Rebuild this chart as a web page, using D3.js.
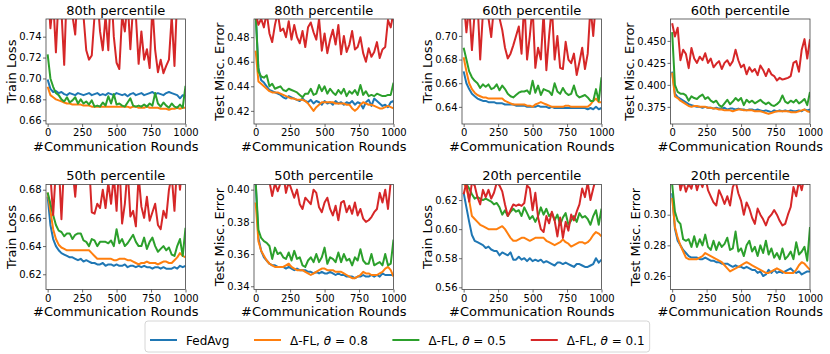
<!DOCTYPE html>
<html>
<head>
<meta charset="utf-8">
<script src="https://cdn.jsdelivr.net/npm/d3@7"></script>
<style>
  body { margin: 0; background: #fff; }
  text { font-family: "DejaVu Sans", sans-serif; }
</style>
</head>
<body>
<svg id="chart" width="830" height="354"></svg>
<script>
// Communication rounds (x values shared by every series)
const rounds = [0,20,40,60,80,100,120,140,160,180,200,220,240,260,280,300,320,340,360,380,
  400,420,440,460,480,500,520,540,560,580,600,620,640,660,680,700,720,740,760,780,
  800,820,840,860,880,900,920,940,960,980,1000];

const seriesNames = ["FedAvg", "\u0394-FL, \u03b8 = 0.8", "\u0394-FL, \u03b8 = 0.5", "\u0394-FL, \u03b8 = 0.1"];
const colors = ["#1f77b4", "#ff7f0e", "#2ca02c", "#d62728"];
const xTicks = [0, 250, 500, 750, 1000];

// 80th percentile - train loss
const train80_fedavg = [0.699,0.690,0.687,0.688,0.686,0.687,0.685,0.684,0.686,0.685,0.684,0.686,0.685,0.684,0.685,0.686,0.684,0.685,0.686,0.684,0.685,0.684,0.686,0.685,0.684,0.686,0.685,0.684,0.685,0.683,0.685,0.686,0.684,0.685,0.686,0.684,0.685,0.686,0.687,0.685,0.686,0.685,0.684,0.686,0.687,0.686,0.685,0.684,0.681,0.684,0.683];
const train80_t08 = [0.692,0.684,0.682,0.680,0.679,0.678,0.677,0.676,0.676,0.675,0.675,0.675,0.675,0.674,0.674,0.674,0.673,0.673,0.673,0.673,0.673,0.673,0.673,0.673,0.673,0.673,0.673,0.673,0.673,0.673,0.672,0.673,0.673,0.672,0.672,0.672,0.673,0.672,0.672,0.672,0.672,0.671,0.671,0.671,0.670,0.671,0.671,0.672,0.671,0.672,0.672];
const train80_t05 = [0.723,0.700,0.692,0.686,0.684,0.680,0.678,0.682,0.677,0.679,0.682,0.676,0.680,0.676,0.678,0.675,0.679,0.673,0.674,0.673,0.677,0.674,0.683,0.676,0.685,0.675,0.676,0.674,0.673,0.677,0.681,0.674,0.673,0.674,0.673,0.675,0.673,0.676,0.674,0.686,0.676,0.673,0.677,0.674,0.672,0.676,0.673,0.672,0.675,0.672,0.693];
const train80_t01 = [0.790,0.748,0.775,0.725,0.780,0.765,0.713,0.790,0.770,0.760,0.742,0.790,0.775,0.760,0.727,0.718,0.722,0.760,0.780,0.745,0.727,0.760,0.727,0.790,0.740,0.715,0.709,0.760,0.745,0.775,0.728,0.770,0.760,0.714,0.745,0.718,0.728,0.710,0.770,0.727,0.706,0.718,0.705,0.712,0.718,0.760,0.712,0.780,0.790,0.760,0.790];

// 80th percentile - test error
const test80_fedavg = [0.500,0.455,0.445,0.443,0.440,0.437,0.436,0.435,0.434,0.433,0.431,0.430,0.432,0.431,0.430,0.429,0.428,0.430,0.428,0.427,0.429,0.426,0.428,0.427,0.425,0.428,0.426,0.427,0.425,0.428,0.426,0.427,0.425,0.427,0.426,0.428,0.425,0.427,0.426,0.422,0.427,0.429,0.424,0.430,0.428,0.426,0.424,0.425,0.423,0.427,0.428];
const test80_t08 = [0.469,0.444,0.442,0.440,0.438,0.436,0.435,0.435,0.435,0.434,0.433,0.432,0.431,0.430,0.430,0.429,0.429,0.429,0.428,0.426,0.423,0.420,0.423,0.425,0.427,0.427,0.427,0.427,0.427,0.426,0.426,0.426,0.426,0.425,0.425,0.422,0.420,0.422,0.425,0.427,0.426,0.425,0.425,0.424,0.423,0.422,0.422,0.423,0.424,0.423,0.422];
const test80_t05 = [0.500,0.452,0.448,0.447,0.449,0.440,0.442,0.438,0.439,0.440,0.437,0.436,0.438,0.437,0.436,0.435,0.433,0.431,0.434,0.434,0.438,0.433,0.434,0.441,0.436,0.440,0.434,0.438,0.435,0.433,0.437,0.434,0.438,0.432,0.436,0.434,0.437,0.433,0.441,0.433,0.436,0.432,0.433,0.432,0.434,0.433,0.432,0.432,0.433,0.433,0.443];
const test80_t01 = [0.500,0.490,0.495,0.488,0.500,0.483,0.476,0.490,0.500,0.485,0.487,0.480,0.493,0.478,0.490,0.480,0.475,0.485,0.472,0.488,0.492,0.484,0.478,0.495,0.469,0.483,0.467,0.478,0.486,0.474,0.490,0.466,0.481,0.468,0.474,0.485,0.470,0.472,0.480,0.467,0.460,0.471,0.464,0.468,0.476,0.463,0.470,0.472,0.494,0.488,0.500];

// 60th percentile - train loss
const train60_fedavg = [0.670,0.660,0.655,0.651,0.649,0.647,0.646,0.645,0.645,0.644,0.644,0.644,0.643,0.643,0.643,0.642,0.642,0.642,0.642,0.641,0.641,0.641,0.641,0.640,0.640,0.640,0.640,0.641,0.640,0.640,0.640,0.639,0.640,0.639,0.639,0.639,0.639,0.639,0.639,0.639,0.639,0.639,0.639,0.639,0.639,0.638,0.639,0.638,0.640,0.638,0.639];
const train60_t08 = [0.682,0.670,0.660,0.655,0.652,0.650,0.649,0.648,0.648,0.647,0.647,0.647,0.647,0.647,0.647,0.645,0.644,0.643,0.642,0.642,0.642,0.642,0.642,0.641,0.641,0.640,0.642,0.643,0.644,0.643,0.642,0.641,0.640,0.640,0.640,0.640,0.640,0.641,0.641,0.640,0.640,0.640,0.640,0.640,0.640,0.640,0.642,0.645,0.647,0.644,0.644];
const train60_t05 = [0.690,0.680,0.670,0.665,0.662,0.660,0.656,0.659,0.657,0.659,0.655,0.656,0.659,0.654,0.658,0.655,0.651,0.649,0.648,0.650,0.652,0.653,0.653,0.654,0.651,0.662,0.652,0.658,0.650,0.655,0.654,0.653,0.650,0.660,0.653,0.651,0.656,0.652,0.650,0.651,0.658,0.650,0.648,0.649,0.650,0.648,0.645,0.645,0.655,0.645,0.665];
const train60_t01 = [0.730,0.703,0.725,0.688,0.720,0.730,0.680,0.720,0.730,0.715,0.699,0.725,0.730,0.715,0.705,0.690,0.681,0.685,0.692,0.700,0.708,0.685,0.730,0.680,0.700,0.725,0.673,0.690,0.680,0.720,0.671,0.700,0.725,0.680,0.700,0.673,0.672,0.695,0.680,0.677,0.685,0.667,0.678,0.690,0.672,0.685,0.725,0.700,0.730,0.720,0.730];

// 60th percentile - test error
const test60_fedavg = [0.415,0.390,0.386,0.384,0.382,0.380,0.378,0.377,0.376,0.375,0.375,0.374,0.375,0.374,0.374,0.373,0.374,0.373,0.373,0.374,0.372,0.373,0.373,0.372,0.373,0.372,0.372,0.371,0.372,0.372,0.371,0.372,0.371,0.370,0.371,0.370,0.369,0.371,0.370,0.371,0.370,0.371,0.370,0.371,0.370,0.370,0.371,0.370,0.372,0.371,0.372];
const test60_t08 = [0.414,0.387,0.385,0.382,0.380,0.378,0.376,0.375,0.376,0.376,0.375,0.375,0.375,0.374,0.374,0.373,0.373,0.372,0.372,0.371,0.371,0.371,0.370,0.371,0.372,0.372,0.371,0.371,0.371,0.371,0.370,0.370,0.370,0.369,0.368,0.367,0.368,0.369,0.370,0.370,0.370,0.370,0.370,0.369,0.369,0.369,0.370,0.371,0.372,0.370,0.369];
const test60_t05 = [0.460,0.400,0.392,0.390,0.390,0.388,0.382,0.387,0.385,0.384,0.387,0.389,0.384,0.386,0.382,0.380,0.382,0.377,0.375,0.379,0.383,0.378,0.381,0.385,0.382,0.385,0.377,0.383,0.380,0.382,0.379,0.381,0.383,0.380,0.378,0.380,0.377,0.376,0.378,0.381,0.388,0.381,0.379,0.382,0.380,0.383,0.379,0.381,0.384,0.377,0.392];
const test60_t01 = [0.470,0.455,0.465,0.428,0.440,0.435,0.419,0.442,0.430,0.425,0.432,0.428,0.436,0.425,0.430,0.420,0.424,0.427,0.418,0.425,0.428,0.422,0.427,0.440,0.428,0.420,0.423,0.412,0.420,0.415,0.418,0.411,0.422,0.417,0.410,0.418,0.412,0.410,0.405,0.408,0.406,0.407,0.408,0.410,0.425,0.427,0.415,0.440,0.452,0.430,0.452];

// 50th percentile - train loss
const train50_fedavg = [0.675,0.655,0.645,0.640,0.637,0.635,0.634,0.633,0.632,0.632,0.631,0.630,0.631,0.629,0.630,0.629,0.628,0.628,0.627,0.627,0.628,0.626,0.627,0.627,0.626,0.627,0.626,0.626,0.627,0.625,0.626,0.626,0.625,0.626,0.625,0.626,0.625,0.625,0.624,0.625,0.625,0.624,0.625,0.624,0.624,0.624,0.625,0.624,0.626,0.625,0.626];
const train50_t08 = [0.678,0.665,0.652,0.645,0.641,0.639,0.638,0.637,0.637,0.637,0.637,0.637,0.637,0.637,0.637,0.637,0.635,0.633,0.631,0.631,0.631,0.631,0.631,0.631,0.630,0.630,0.631,0.631,0.631,0.630,0.630,0.629,0.628,0.627,0.628,0.628,0.629,0.628,0.628,0.628,0.627,0.628,0.629,0.629,0.628,0.628,0.630,0.632,0.635,0.633,0.632];
const train50_t05 = [0.678,0.670,0.662,0.655,0.651,0.650,0.647,0.649,0.649,0.645,0.648,0.649,0.649,0.644,0.643,0.640,0.645,0.644,0.640,0.643,0.643,0.643,0.642,0.644,0.640,0.652,0.642,0.645,0.640,0.642,0.645,0.648,0.643,0.640,0.640,0.646,0.638,0.643,0.646,0.640,0.636,0.638,0.640,0.637,0.639,0.634,0.633,0.640,0.645,0.633,0.653];
const train50_t01 = [0.700,0.690,0.662,0.695,0.700,0.659,0.700,0.690,0.700,0.695,0.675,0.700,0.700,0.700,0.695,0.700,0.664,0.663,0.670,0.667,0.680,0.667,0.685,0.670,0.690,0.665,0.700,0.656,0.670,0.695,0.661,0.665,0.654,0.690,0.668,0.660,0.675,0.658,0.664,0.670,0.655,0.652,0.665,0.660,0.680,0.690,0.665,0.700,0.680,0.700,0.700];

// 50th percentile - test error
const test50_fedavg = [0.405,0.370,0.362,0.358,0.356,0.354,0.353,0.353,0.352,0.352,0.352,0.351,0.352,0.351,0.350,0.351,0.350,0.350,0.350,0.349,0.349,0.348,0.349,0.348,0.349,0.348,0.348,0.349,0.348,0.347,0.348,0.347,0.347,0.346,0.346,0.346,0.345,0.346,0.346,0.347,0.346,0.346,0.347,0.346,0.347,0.346,0.348,0.347,0.347,0.347,0.347];
const test50_t08 = [0.392,0.368,0.362,0.359,0.356,0.354,0.353,0.352,0.352,0.352,0.352,0.353,0.354,0.352,0.351,0.350,0.350,0.350,0.349,0.348,0.347,0.348,0.349,0.350,0.351,0.351,0.350,0.350,0.350,0.349,0.349,0.349,0.348,0.347,0.346,0.345,0.345,0.346,0.347,0.349,0.348,0.348,0.347,0.347,0.347,0.348,0.349,0.351,0.352,0.350,0.346];
const test50_t05 = [0.405,0.375,0.370,0.368,0.367,0.365,0.357,0.364,0.360,0.361,0.358,0.357,0.361,0.356,0.362,0.357,0.358,0.353,0.352,0.356,0.358,0.355,0.360,0.355,0.358,0.364,0.354,0.358,0.357,0.355,0.361,0.355,0.360,0.356,0.357,0.353,0.358,0.356,0.363,0.356,0.354,0.354,0.360,0.353,0.354,0.355,0.353,0.360,0.353,0.354,0.369];
const test50_t01 = [0.415,0.412,0.410,0.408,0.410,0.405,0.396,0.404,0.399,0.404,0.410,0.398,0.405,0.400,0.395,0.400,0.391,0.388,0.395,0.393,0.391,0.400,0.398,0.389,0.386,0.392,0.395,0.388,0.384,0.390,0.381,0.392,0.393,0.386,0.390,0.385,0.392,0.384,0.388,0.382,0.380,0.381,0.383,0.386,0.388,0.398,0.392,0.400,0.388,0.405,0.410];

// 20th percentile - train loss
const train20_fedavg = [0.625,0.615,0.605,0.596,0.592,0.591,0.590,0.589,0.587,0.588,0.586,0.585,0.585,0.582,0.584,0.583,0.582,0.584,0.579,0.579,0.581,0.579,0.580,0.578,0.580,0.578,0.579,0.578,0.579,0.577,0.578,0.577,0.576,0.575,0.577,0.577,0.576,0.577,0.576,0.575,0.574,0.576,0.576,0.575,0.574,0.574,0.575,0.576,0.580,0.577,0.579];
const train20_t08 = [0.632,0.628,0.620,0.609,0.607,0.605,0.603,0.602,0.601,0.600,0.600,0.600,0.600,0.601,0.602,0.600,0.597,0.594,0.592,0.592,0.593,0.594,0.594,0.593,0.592,0.593,0.594,0.594,0.594,0.594,0.592,0.591,0.590,0.589,0.590,0.591,0.593,0.591,0.590,0.588,0.589,0.590,0.591,0.591,0.590,0.591,0.593,0.596,0.598,0.597,0.595];
const train20_t05 = [0.635,0.631,0.628,0.624,0.621,0.622,0.621,0.620,0.621,0.620,0.619,0.617,0.618,0.615,0.610,0.613,0.609,0.612,0.614,0.612,0.613,0.609,0.615,0.611,0.607,0.609,0.605,0.609,0.615,0.610,0.614,0.609,0.611,0.606,0.610,0.603,0.608,0.611,0.603,0.606,0.609,0.605,0.611,0.608,0.609,0.607,0.603,0.609,0.613,0.603,0.614];
const train20_t01 = [0.624,0.632,0.619,0.632,0.630,0.622,0.617,0.627,0.622,0.627,0.621,0.625,0.632,0.630,0.626,0.617,0.609,0.613,0.617,0.616,0.617,0.616,0.618,0.630,0.628,0.613,0.625,0.608,0.600,0.598,0.609,0.604,0.612,0.606,0.595,0.608,0.594,0.605,0.599,0.610,0.606,0.612,0.617,0.628,0.622,0.632,0.620,0.628,0.635,0.632,0.635];

// 20th percentile - test error
const test20_fedavg = [0.314,0.291,0.283,0.280,0.277,0.275,0.273,0.272,0.272,0.272,0.271,0.271,0.272,0.271,0.270,0.270,0.269,0.269,0.268,0.268,0.268,0.267,0.266,0.267,0.266,0.266,0.265,0.266,0.265,0.264,0.264,0.262,0.263,0.260,0.261,0.264,0.262,0.264,0.262,0.263,0.262,0.263,0.264,0.265,0.263,0.262,0.263,0.261,0.262,0.263,0.263];
const test20_t08 = [0.311,0.292,0.285,0.280,0.276,0.272,0.271,0.271,0.271,0.271,0.272,0.273,0.275,0.274,0.273,0.272,0.271,0.270,0.269,0.267,0.265,0.263,0.264,0.265,0.266,0.267,0.268,0.269,0.268,0.267,0.266,0.265,0.264,0.263,0.262,0.262,0.263,0.264,0.265,0.264,0.263,0.262,0.262,0.262,0.262,0.264,0.267,0.269,0.268,0.266,0.264];
const test20_t05 = [0.320,0.302,0.296,0.294,0.284,0.283,0.284,0.279,0.286,0.279,0.284,0.280,0.287,0.279,0.277,0.283,0.277,0.282,0.279,0.281,0.285,0.277,0.278,0.289,0.276,0.278,0.273,0.280,0.283,0.276,0.279,0.273,0.280,0.275,0.283,0.274,0.278,0.272,0.275,0.271,0.278,0.271,0.273,0.276,0.271,0.282,0.274,0.276,0.279,0.270,0.292];
const test20_t01 = [0.330,0.325,0.330,0.316,0.322,0.315,0.320,0.317,0.325,0.316,0.322,0.318,0.325,0.316,0.312,0.308,0.306,0.316,0.312,0.307,0.312,0.306,0.318,0.322,0.314,0.309,0.300,0.308,0.304,0.298,0.294,0.304,0.300,0.297,0.293,0.298,0.300,0.303,0.300,0.296,0.293,0.294,0.300,0.305,0.318,0.312,0.322,0.316,0.325,0.320,0.330];

// Tick labels per panel
const ticks80Train = [0.66, 0.68, 0.70, 0.72, 0.74];
const ticks80Test = [0.42, 0.44, 0.46, 0.48];
const ticks60Train = [0.64, 0.66, 0.68, 0.70];
const ticks60Test = [0.375, 0.400, 0.425, 0.450];
const ticks50Train = [0.62, 0.64, 0.66, 0.68];
const ticks50Test = [0.34, 0.36, 0.38, 0.40];
const ticks20Train = [0.56, 0.58, 0.60, 0.62];
const ticks20Test = [0.26, 0.28, 0.30];

const panels = [
  { title: "80th percentile", ylabel: "Train Loss", series: [train80_fedavg, train80_t08, train80_t05, train80_t01], yDomain: [0.6564, 0.7569], ticks: ticks80Train, fmt: ".2f" },
  { title: "80th percentile", ylabel: "Test Misc. Error", series: [test80_fedavg, test80_t08, test80_t05, test80_t01], yDomain: [0.4093, 0.4948], ticks: ticks80Test, fmt: ".2f" },
  { title: "60th percentile", ylabel: "Train Loss", series: [train60_fedavg, train60_t08, train60_t05, train60_t01], yDomain: [0.6255, 0.7143], ticks: ticks60Train, fmt: ".2f" },
  { title: "60th percentile", ylabel: "Test Misc. Error", series: [test60_fedavg, test60_t08, test60_t05, test60_t01], yDomain: [0.3555, 0.4749], ticks: ticks60Test, fmt: ".3f" },
  { title: "50th percentile", ylabel: "Train Loss", series: [train50_fedavg, train50_t08, train50_t05, train50_t01], yDomain: [0.6092, 0.6837], ticks: ticks50Train, fmt: ".2f" },
  { title: "50th percentile", ylabel: "Test Misc. Error", series: [test50_fedavg, test50_t08, test50_t05, test50_t01], yDomain: [0.338, 0.4032], ticks: ticks50Test, fmt: ".2f" },
  { title: "20th percentile", ylabel: "Train Loss", series: [train20_fedavg, train20_t08, train20_t05, train20_t01], yDomain: [0.5585, 0.6307], ticks: ticks20Train, fmt: ".2f" },
  { title: "20th percentile", ylabel: "Test Misc. Error", series: [test20_fedavg, test20_t08, test20_t05, test20_t01], yDomain: [0.2512, 0.3197], ticks: ticks20Test, fmt: ".2f" }
];

const svg = d3.select("#chart");

// Layout of the 2x4 grid
const colLeft = [46, 254, 462, 670.5];
const rowTop = [19, 184.5];
const plotW = 139.5;
const plotH = 105;
const frameColor = "#444";

panels.forEach((p, i) => {
  const left = colLeft[i % 4];
  const top = rowTop[Math.floor(i / 4)];

  const x = d3.scaleLinear().domain([-12, 1000]).range([0, plotW]);
  const y = d3.scaleLinear().domain(p.yDomain).range([plotH, 0]);

  const g = svg.append("g").attr("transform", `translate(${left},${top})`);

  // clip so the noisy series stay inside the axes
  const clipId = "clip" + i;
  g.append("clipPath").attr("id", clipId)
    .append("rect").attr("width", plotW).attr("height", plotH);

  const line = d3.line()
    .x((d, j) => x(rounds[j]))
    .y(d => y(d));

  const lines = g.append("g").attr("clip-path", `url(#${clipId})`);
  p.series.forEach((vals, k) => {
    lines.append("path")
      .datum(vals)
      .attr("d", line)
      .attr("fill", "none")
      .attr("stroke", colors[k])
      .attr("stroke-width", 2)
      .attr("stroke-linejoin", "round");
  });

  // axes
  const xAxis = g.append("g")
    .attr("transform", `translate(0,${plotH})`)
    .call(d3.axisBottom(x).tickValues(xTicks).tickFormat(d3.format("d")).tickSize(3).tickPadding(2));
  const yAxis = g.append("g")
    .call(d3.axisLeft(y).tickValues(p.ticks).tickFormat(d3.format(p.fmt)).tickSize(3).tickPadding(1.5));

  [xAxis, yAxis].forEach(a => {
    a.select(".domain").remove();
    a.selectAll(".tick line").attr("stroke", frameColor).attr("stroke-width", 0.8);
    a.selectAll(".tick text").attr("font-size", 10).attr("fill", "#000")
      .attr("font-family", "DejaVu Sans, sans-serif");
  });

  // frame
  g.append("rect")
    .attr("width", plotW).attr("height", plotH)
    .attr("fill", "none").attr("stroke", frameColor).attr("stroke-width", 0.8);

  // title
  g.append("text")
    .attr("x", plotW / 2).attr("y", -4.5)
    .attr("text-anchor", "middle")
    .attr("font-size", 13)
    .text(p.title);

  // x label
  g.append("text")
    .attr("x", plotW / 2).attr("y", plotH + 26.5)
    .attr("text-anchor", "middle")
    .attr("font-size", 13)
    .text("#Communication Rounds");

  // y label, placed just left of the tick labels
  const bb = yAxis.node().getBBox();
  g.append("text")
    .attr("transform", `translate(${bb.x - 3.5},${plotH / 2}) rotate(-90)`)
    .attr("text-anchor", "middle")
    .attr("font-size", 13)
    .text(p.ylabel);
});

// Legend
const legend = svg.append("g");
const legendBox = legend.append("rect")
  .attr("x", 145).attr("y", 321)
  .attr("height", 31)
  .attr("rx", 3)
  .attr("fill", "#fff")
  .attr("stroke", "#ccc")
  .attr("stroke-width", 0.8);

let cx = 150;
seriesNames.forEach((name, k) => {
  legend.append("line")
    .attr("x1", cx).attr("x2", cx + 27)
    .attr("y1", 340).attr("y2", 340)
    .attr("stroke", colors[k]).attr("stroke-width", 2);

  const t = legend.append("text")
    .attr("x", cx + 36).attr("y", 344.5)
    .attr("font-size", 12);
  if (k === 0) {
    t.text(name);
  } else {
    const parts = name.split("\u03b8");
    t.append("tspan").text(parts[0]);
    t.append("tspan").attr("font-style", "italic").text("\u03b8");
    t.append("tspan").text(parts[1]);
  }
  cx += 36 + t.node().getComputedTextLength() + 24.5;
});
legendBox.attr("width", cx - 24.5 + 5 - 145);
</script>
</body>
</html>
